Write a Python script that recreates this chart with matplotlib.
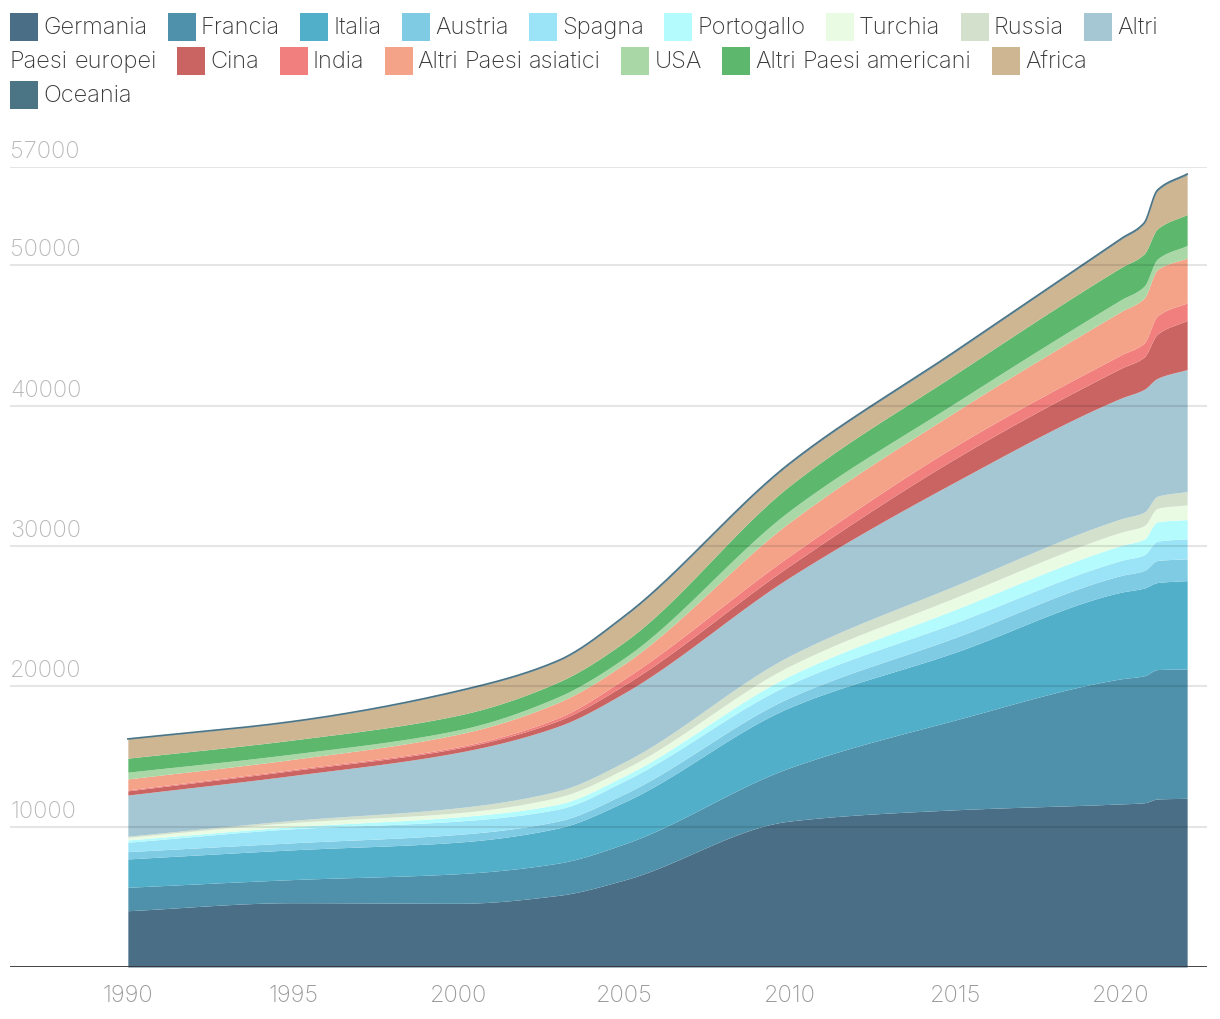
import matplotlib
matplotlib.use("Agg")
import matplotlib.pyplot as plt
from matplotlib.patches import Rectangle
import numpy as np

W, H = 1220, 1020

years = [1990, 1995, 2000, 2003, 2005, 2010, 2015, 2020, 2020.7, 2021.1, 2022]

germania   = [4010, 4580, 4540, 5100, 6200, 10400, 11200, 11620, 11700, 11970, 12020]
francia    = [1670, 1650, 2110, 2300, 2570, 3800, 6400, 8910, 9050, 9220, 9220]
italia     = [2020, 2120, 2250, 2500, 2990, 4300, 4830, 6170, 6250, 6200, 6290]
austria    = [520, 500, 550, 500, 570, 700, 1050, 1190, 1250, 1570, 1550]
spagna     = [670, 1000, 950, 850, 930, 950, 1050, 1070, 1120, 1380, 1430]
portogallo = [160, 150, 300, 350, 350, 600, 950, 1070, 1120, 1380, 1370]
turchia    = [190, 300, 300, 500, 500, 700, 850, 950, 960, 960, 1050]
russia     = [80, 150, 350, 450, 500, 720, 850, 950, 960, 860, 950]
altri_eu   = [2930, 3200, 3950, 4600, 4920, 5600, 7390, 8600, 8750, 8400, 8690]
cina       = [300, 350, 300, 400, 570, 830, 1660, 2130, 2300, 3150, 3500]
india      = [70, 80, 100, 200, 430, 700, 880, 950, 1000, 1300, 1260]
altri_asia = [780, 720, 900, 1100, 1070, 2400, 2450, 3090, 3200, 3300, 3180]
usa        = [480, 380, 300, 400, 420, 820, 640, 840, 850, 750, 900]
altri_am   = [1000, 1000, 1050, 1050, 1140, 1780, 2040, 2300, 2300, 2150, 2210]
africa     = [1350, 1300, 1700, 1500, 1800, 1550, 1590, 2000, 2150, 2700, 2830]
oceania    = [20, 20, 30, 30, 40, 50, 50, 50, 50, 50, 50]

labels = ["Germania", "Francia", "Italia", "Austria", "Spagna", "Portogallo",
          "Turchia", "Russia", "Altri Paesi europei", "Cina", "India",
          "Altri Paesi asiatici", "USA", "Altri Paesi americani", "Africa", "Oceania"]
series = [germania, francia, italia, austria, spagna, portogallo, turchia, russia,
          altri_eu, cina, india, altri_asia, usa, altri_am, africa, oceania]
colors = ["#4a6e85", "#4f91aa", "#51afca", "#7ecbe3", "#9be4f7", "#b4fbfd",
          "#eafbe4", "#d3e0cb", "#a5c7d3", "#ca6462", "#f07f7d", "#f4a388",
          "#a9d8a6", "#5db86e", "#ceb693", "#4b7485"]

yticks = [10000, 20000, 30000, 40000, 50000, 57000]
xticks = [1990, 1995, 2000, 2005, 2010, 2015, 2020]

FONT = ["Inter", "DejaVu Sans"]
plt.rcParams["font.family"] = FONT
FS = 17
FW = "light"


def monotone_curve(xk, yk, xs):
    """Monotone cubic (Fritsch-Carlson) curve through the points, for drawing."""
    xk = np.asarray(xk, float)
    yk = np.asarray(yk, float)
    h = np.diff(xk)
    d = np.diff(yk) / h
    m = np.zeros_like(yk)
    m[0], m[-1] = d[0], d[-1]
    for i in range(1, len(yk) - 1):
        if d[i - 1] * d[i] <= 0:
            m[i] = 0
        else:
            w1 = 2 * h[i] + h[i - 1]
            w2 = h[i] + 2 * h[i - 1]
            m[i] = (w1 + w2) / (w1 / d[i - 1] + w2 / d[i])
    idx = np.clip(np.searchsorted(xk, xs) - 1, 0, len(xk) - 2)
    t = (xs - xk[idx]) / h[idx]
    h00 = 2 * t**3 - 3 * t**2 + 1
    h10 = t**3 - 2 * t**2 + t
    h01 = -2 * t**3 + 3 * t**2
    h11 = t**3 - t**2
    return (h00 * yk[idx] + h10 * h[idx] * m[idx] + h01 * yk[idx + 1]
            + h11 * h[idx] * m[idx + 1])


fig = plt.figure(figsize=(W / 100, H / 100), dpi=100)
ax = fig.add_axes([10 / W, (H - 968) / H, (1207 - 10) / W, 800 / H])
ax.set_xlim(1986.44, 2022.6)
ax.set_ylim(0, 57000)

xs = np.linspace(years[0], years[-1], 1200)
cum = np.zeros(len(years))
prev = np.zeros_like(xs)
for vals, col in zip(series, colors):
    cum = cum + np.array(vals, dtype=float)
    cur = monotone_curve(years, cum, xs)
    ax.fill_between(xs, prev, cur, color=col, linewidth=0, zorder=2)
    prev = cur
ax.plot(xs, prev, color="#4b7485", linewidth=1.2, zorder=3)

for yv in yticks:
    ax.axhline(yv, color="black", alpha=0.1, linewidth=1.5, zorder=4)
    ax.annotate(str(yv), xy=(0, yv), xycoords=("axes fraction", "data"),
                xytext=(0, 3.5), textcoords="offset points", ha="left", va="bottom",
                fontsize=FS, color="#b8b8b8", fontweight=FW)
ax.axhline(0, color="#333333", linewidth=2, zorder=5)

ax.set_xticks(xticks)
ax.set_xticklabels([str(v) for v in xticks], fontsize=FS, color="#999999", fontweight=FW)
ax.tick_params(axis="x", length=0, pad=12)
ax.set_yticks([])
for s in ax.spines.values():
    s.set_visible(False)

# flowing legend (HTML-like inline wrap)
fig.canvas.draw()
renderer = fig.canvas.get_renderer()


def width_of(s):
    t = fig.text(0, 0, s, fontsize=FS, fontweight=FW)
    w = t.get_window_extent(renderer).width
    t.remove()
    return w


x0, right = 10, 1212
line_y = 28
line_h = 34
sq_w, sq_h = 28, 28
gap_sq, gap_item = 5, 20.5
space_w = width_of("a b") - width_of("ab")
cx = x0
for lab, col in zip(labels, colors):
    words = lab.split()
    w0 = width_of(words[0])
    if cx + sq_w + gap_sq + w0 > right:
        cx = x0
        line_y += line_h
    fig.add_artist(Rectangle((cx / W, 1 - (line_y + sq_h / 2) / H), sq_w / W, sq_h / H,
                             transform=fig.transFigure, color=col, linewidth=0))
    cx += sq_w + gap_sq
    for i, wd in enumerate(words):
        ww = width_of(wd)
        if i > 0:
            if cx + space_w + ww > right:
                cx = x0
                line_y += line_h
            else:
                cx += space_w
        fig.text(cx / W, 1 - line_y / H, wd, ha="left", va="center", fontsize=FS,
                 color="#3a3a3a", fontweight=FW)
        cx += ww
    cx += gap_item

fig.savefig("out.png", dpi=100)
